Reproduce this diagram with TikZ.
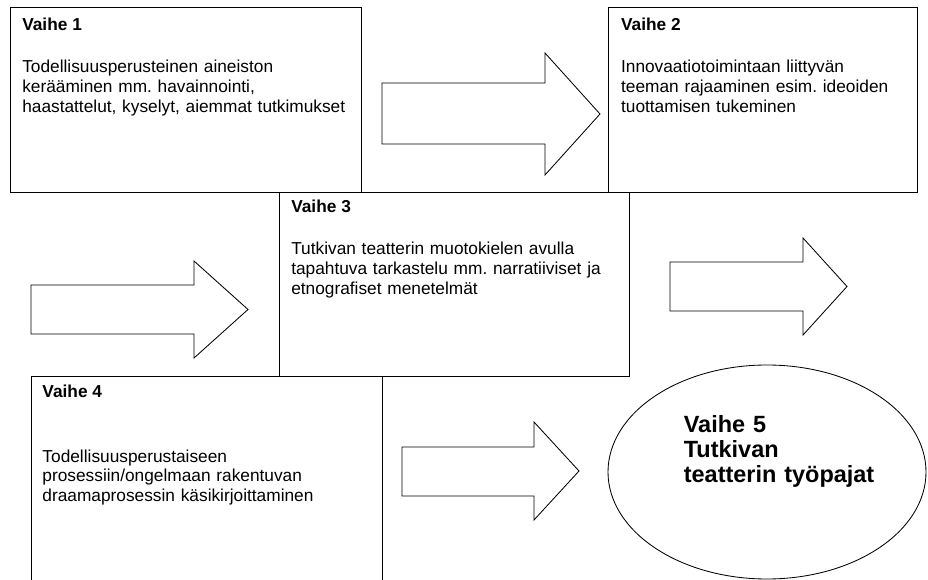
\documentclass[tikz,border=0pt]{standalone}
\usepackage{fontspec}
\setmainfont{Liberation Sans}
\usetikzlibrary{positioning}
\usetikzlibrary{shapes.geometric}
\frenchspacing

\begin{document}
\begin{tikzpicture}[laatikko/.style={rectangle, draw, line width=0.7pt, anchor=north west, inner sep=0pt},
		otsikko/.style={font=\fontsize{12.3}{14.2}\selectfont\bfseries, inner sep=0pt},
		kuvaus/.style={font=\fontsize{12.3}{14.2}\selectfont, align=left, text width=8.2cm, inner sep=0pt},
		nuoli/.style={draw, line width=0.6pt, line join=miter}]
		\useasboundingbox (0,0) rectangle (23.2,-14.5);
		\clip (0,0) rectangle (23.2,-14.5);

		% Vaihe 1
		\node (V_1) at (0.25,-0.175) [laatikko, minimum width=8.775cm, minimum height=4.625cm] {};
		\node (O_1) [otsikko, below right=0.6cm and 0.3cm of V_1.north west, anchor=base west] {Vaihe 1};
		\node (K_1) [kuvaus, below=1.05cm of O_1.base west, anchor=base west] {Todellisuusperusteinen aineiston\\ kerääminen mm. havainnointi,\\ haastattelut, kyselyt, aiemmat tutkimukset};

		% Vaihe 2
		\node (V_2) at (15.2,-0.175) [laatikko, minimum width=7.725cm, minimum height=4.625cm] {};
		\node (O_2) [otsikko, below right=0.6cm and 0.32cm of V_2.north west, anchor=base west] {Vaihe 2};
		\node (K_2) [kuvaus, text width=7.2cm, below=1.05cm of O_2.base west, anchor=base west] {Innovaatiotoimintaan liittyvän\\ teeman rajaaminen esim. ideoiden\\ tuottamisen tukeminen};

		% Vaihe 3
		\node (V_3) at (6.975,-4.8) [laatikko, minimum width=8.75cm, minimum height=4.6cm] {};
		\node (O_3) [otsikko, below right=0.52cm and 0.3cm of V_3.north west, anchor=base west] {Vaihe 3};
		\node (K_3) [kuvaus, below=1.05cm of O_3.base west, anchor=base west] {Tutkivan teatterin muotokielen avulla\\ tapahtuva tarkastelu mm. narratiiviset ja\\ etnografiset menetelmät};

		% Vaihe 4
		\node (V_4) at (0.775,-9.4) [laatikko, minimum width=8.775cm, minimum height=5.4cm] {};
		\node (O_4) [otsikko, below right=0.55cm and 0.28cm of V_4.north west, anchor=base west] {Vaihe 4};
		\node (K_4) [kuvaus, below=1.6cm of O_4.base west, anchor=base west] {Todellisuusperustaiseen\\ prosessiin/ongelmaan rakentuvan\\ draamaprosessin käsikirjoittaminen};

		% Vaihe 5
		\node (V_5) at (19.175,-11.8) [ellipse, draw, line width=0.6pt, minimum width=7.95cm, minimum height=5.35cm, inner sep=0pt] {};
		\node (O_5) [above right=1.0cm and 1.9cm of V_5.west, anchor=base west, align=left, text width=5.2cm, inner sep=0pt, font=\fontsize{16.7}{17.8}\selectfont\bfseries] {Vaihe 5\\ Tutkivan\\ teatterin työpajat};

		% Block arrows between the phases
		\draw [nuoli] (9.55,-2.075) -- (13.625,-2.075) -- (13.625,-1.325) -- (15.0,-2.85) -- (13.625,-4.375) -- (13.625,-3.6) -- (9.55,-3.6) -- cycle;
		\draw [nuoli] (0.775,-7.125) -- (4.85,-7.125) -- (4.85,-6.525) -- (6.2,-7.7375) -- (4.85,-8.95) -- (4.85,-8.35) -- (0.775,-8.35) -- cycle;
		\draw [nuoli] (16.75,-6.55) -- (20.075,-6.55) -- (20.075,-5.95) -- (21.175,-7.1625) -- (20.075,-8.375) -- (20.075,-7.775) -- (16.75,-7.775) -- cycle;
		\draw [nuoli] (10.05,-11.175) -- (13.35,-11.175) -- (13.35,-10.55) -- (14.475,-11.775) -- (13.35,-13.0) -- (13.35,-12.4) -- (10.05,-12.4) -- cycle;
\end{tikzpicture}
\end{document}
